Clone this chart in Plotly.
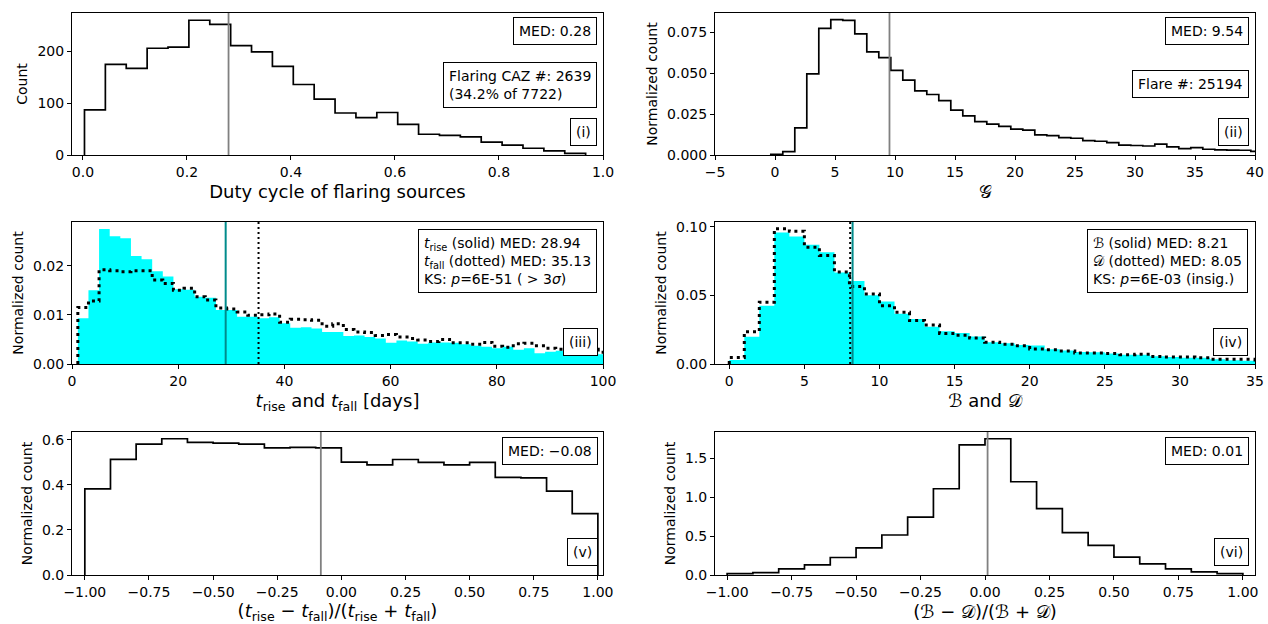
import plotly.graph_objects as go

W, H = 1268, 624

# ---------------- data ----------------
# (i) duty cycle of flaring sources (counts)
duty_start, duty_width = 0.003, 0.04015
duty_counts = [87, 175, 167, 206, 208, 260, 252, 211, 199, 171, 136, 108,
               81, 72, 82, 59, 40, 38, 35, 25, 19, 13, 8, 3]
duty_med = 0.28

# (ii) G (normalized)
g_start, g_width = -0.35, 1.0
g_density = [0.0004, 0.0020, 0.0166, 0.0495, 0.0772, 0.0825, 0.0821, 0.0739,
             0.0629, 0.0594, 0.0516, 0.0457, 0.0391, 0.0369, 0.0332, 0.0274,
             0.0238, 0.0203, 0.0188, 0.0174, 0.0158, 0.0152, 0.0123, 0.0118,
             0.0106, 0.0102, 0.0088, 0.0084, 0.0076, 0.0060, 0.0058, 0.0055,
             0.0066, 0.0049, 0.0039, 0.0045, 0.0035, 0.0031, 0.0030, 0.0029,
             0.0022, 0.0021]
g_med = 9.54

# (iii) t_rise (filled) and t_fall (dotted), normalized
t_start, t_width = 1.1, 2.0
t_rise = [0.0093, 0.0150, 0.0275, 0.0260, 0.0256, 0.0220, 0.0213, 0.0189,
          0.0178, 0.0152, 0.0151, 0.0137, 0.0135, 0.0110, 0.0110, 0.0096,
          0.0096, 0.0093, 0.0095, 0.0083, 0.0074, 0.0075, 0.0072, 0.0065,
          0.0065, 0.0057, 0.0058, 0.0055, 0.0052, 0.0043, 0.0048, 0.0046,
          0.0041, 0.0044, 0.0044, 0.0043, 0.0040, 0.0037, 0.0035, 0.0032,
          0.0035, 0.0029, 0.0032, 0.0022, 0.0025, 0.0027, 0.0025, 0.0022,
          0.0026, 0.0020]
t_fall = [0.0115, 0.0128, 0.0192, 0.0190, 0.0188, 0.0190, 0.0190, 0.0171,
          0.0164, 0.0150, 0.0154, 0.0137, 0.0130, 0.0114, 0.0112, 0.0106,
          0.0099, 0.0100, 0.0102, 0.0085, 0.0091, 0.0090, 0.0089, 0.0077,
          0.0082, 0.0070, 0.0065, 0.0064, 0.0058, 0.0060, 0.0055, 0.0052,
          0.0049, 0.0046, 0.0050, 0.0043, 0.0043, 0.0040, 0.0044, 0.0036,
          0.0034, 0.0041, 0.0042, 0.0037, 0.0032, 0.0030, 0.0031, 0.0034,
          0.0030, 0.0024]
t_rise_med, t_fall_med = 28.94, 35.13

# (iv) B (filled) and D (dotted), normalized
bd_start, bd_width = 0.0, 1.0
b_density = [0.0030, 0.0199, 0.0424, 0.0958, 0.0929, 0.0868, 0.0814, 0.0667,
             0.0605, 0.0500, 0.0456, 0.0365, 0.0328, 0.0272, 0.0238, 0.0225,
             0.0200, 0.0159, 0.0152, 0.0139, 0.0134, 0.0108, 0.0098, 0.0088,
             0.0086, 0.0076, 0.0068, 0.0068, 0.0056, 0.0051, 0.0046, 0.0046,
             0.0034, 0.0027, 0.0024, 0.0022]
d_density = [0.0047, 0.0235, 0.0450, 0.0985, 0.0966, 0.0850, 0.0790, 0.0670,
             0.0564, 0.0510, 0.0424, 0.0377, 0.0316, 0.0284, 0.0223, 0.0210,
             0.0189, 0.0159, 0.0144, 0.0132, 0.0110, 0.0103, 0.0095, 0.0081,
             0.0081, 0.0076, 0.0068, 0.0071, 0.0054, 0.0051, 0.0051, 0.0046,
             0.0034, 0.0034, 0.0034, 0.0030]
b_med, d_med = 8.21, 8.05

# (v) (t_rise - t_fall)/(t_rise + t_fall)
asym_start, asym_width = -1.0, 0.1
t_asym = [0.382, 0.513, 0.580, 0.604, 0.588, 0.585, 0.580, 0.564, 0.566, 0.564,
          0.500, 0.488, 0.512, 0.499, 0.488, 0.499, 0.433, 0.431, 0.372, 0.272]
t_asym_med = -0.08

# (vi) (B - D)/(B + D)
bd_asym = [0.017, 0.030, 0.080, 0.130, 0.225, 0.350, 0.515, 0.745, 1.110, 1.675,
           1.753, 1.200, 0.853, 0.545, 0.380, 0.230, 0.143, 0.078, 0.040, 0.017]
bd_asym_med = 0.01

# ---------------- helpers ----------------
FONT = "DejaVu Sans"


def step_xy(start, width, vals):
    n = len(vals)
    edges = [start + width * i for i in range(n + 1)]
    x = [edges[0]] + edges[:n] + [edges[n], edges[n]]
    y = [0] + list(vals) + [vals[-1], 0]
    return x, y


# panel pixel boxes: (left, right, top, bottom)
P = {1: (72, 603, 13, 155), 2: (715, 1255, 13, 155),
     3: (72, 603, 222, 364), 4: (715, 1255, 222, 364),
     5: (72, 603, 432, 575), 6: (715, 1255, 432, 575)}

fig = go.Figure()


def ax(i):
    return ("x" if i == 1 else f"x{i}"), ("y" if i == 1 else f"y{i}")


def add_step(i, start, width, vals, color="black", dash=None, lw=1.7, fill=None):
    x, y = step_xy(start, width, vals)
    xa, ya = ax(i)
    if fill:
        fig.add_trace(go.Scatter(x=x, y=y, mode="lines", line=dict(width=0, shape="hv"),
                                 fill="tozeroy", fillcolor=fill, xaxis=xa, yaxis=ya,
                                 hoverinfo="skip", showlegend=False))
    else:
        fig.add_trace(go.Scatter(x=x, y=y, mode="lines",
                                 line=dict(color=color, width=lw, shape="hv", dash=dash),
                                 xaxis=xa, yaxis=ya, hoverinfo="skip", showlegend=False))


def vline(i, xv, color, dash=None, width=1.8):
    xa, ya = ax(i)
    fig.add_shape(type="line", xref=xa, yref=f"{ya} domain", x0=xv, x1=xv, y0=0, y1=1,
                  line=dict(color=color, width=width, dash=dash))


def box(text, right_px, top_px=None, bottom_px=None, align="center"):
    kw = dict(text=text, xref="paper", yref="paper", x=right_px / W, xanchor="right",
              showarrow=False, align=align, bgcolor="white", bordercolor="black",
              borderwidth=1, borderpad=5, font=dict(family=FONT, size=14, color="black"))
    if top_px is not None:
        kw.update(y=1 - top_px / H, yanchor="top")
    else:
        kw.update(y=1 - bottom_px / H, yanchor="bottom")
    fig.add_annotation(**kw)


DOT = "3px,4px"

# (i)
add_step(1, duty_start, duty_width, duty_counts)
vline(1, duty_med, "gray")
# (ii)
add_step(2, g_start, g_width, g_density)
vline(2, g_med, "gray")
# (iii)
add_step(3, t_start, t_width, t_rise, fill="#00ffff")
add_step(3, t_start, t_width, t_fall, dash=DOT, lw=3)
vline(3, t_rise_med, "#008b8b", width=2)
vline(3, t_fall_med, "black", dash="2px,3px", width=2)
# (iv)
add_step(4, bd_start, bd_width, b_density, fill="#00ffff")
add_step(4, bd_start, bd_width, d_density, dash=DOT, lw=3)
vline(4, b_med, "#008b8b", width=2)
vline(4, d_med, "black", dash="2px,3px", width=2)
# (v)
add_step(5, asym_start, asym_width, t_asym)
vline(5, t_asym_med, "gray")
# (vi)
add_step(6, asym_start, asym_width, bd_asym)
vline(6, bd_asym_med, "gray")

# ---------------- axes ----------------
x_titles = {
    1: "Duty cycle of flaring sources",
    2: "𝒢",
    3: "<i>t</i><sub>rise</sub> and <i>t</i><sub>fall</sub> [days]",
    4: "ℬ and 𝒟",
    5: "(<i>t</i><sub>rise</sub> − <i>t</i><sub>fall</sub>)/(<i>t</i><sub>rise</sub> + <i>t</i><sub>fall</sub>)",
    6: "(ℬ − 𝒟)/(ℬ + 𝒟)",
}
y_titles = {1: "Count", 2: "Normalized count", 3: "Normalized count",
            4: "Normalized count", 5: "Normalized count", 6: "Normalized count"}
x_ranges = {1: [-0.021, 1.0], 2: [-5, 40], 3: [0, 100], 4: [-0.95, 35],
            5: [-1.05, 1.02], 6: [-1.047, 1.047]}
x_ticks = {1: dict(dtick=0.2, tick0=0, tickformat=".1f"),
           2: dict(dtick=5, tick0=0),
           3: dict(dtick=20, tick0=0),
           4: dict(dtick=5, tick0=0),
           5: dict(dtick=0.25, tick0=0, tickformat=".2f"),
           6: dict(dtick=0.25, tick0=0, tickformat=".2f")}
y_ranges = {1: [0, 274], 2: [0, 0.0866], 3: [0, 0.0289], 4: [0, 0.1034],
            5: [0, 0.634], 6: [0, 1.84]}
y_ticks = {1: dict(dtick=100, tick0=0),
           2: dict(dtick=0.025, tick0=0, tickformat=".3f"),
           3: dict(dtick=0.01, tick0=0, tickformat=".2f"),
           4: dict(dtick=0.05, tick0=0, tickformat=".2f"),
           5: dict(dtick=0.2, tick0=0, tickformat=".1f"),
           6: dict(dtick=0.5, tick0=0, tickformat=".1f")}

common = dict(showline=True, linecolor="black", linewidth=1, mirror=True,
              ticks="outside", ticklen=4, tickwidth=1, tickcolor="black",
              showgrid=False, zeroline=False, automargin=False,
              tickfont=dict(family=FONT, size=14, color="black"))

layout = {}
for i, (l, r, t, b) in P.items():
    xk = "xaxis" if i == 1 else f"xaxis{i}"
    yk = "yaxis" if i == 1 else f"yaxis{i}"
    xa, ya = ax(i)
    layout[xk] = dict(domain=[l / W, r / W], anchor=ya, range=x_ranges[i],
                      title=dict(text=x_titles[i], font=dict(family=FONT, size=18, color="black"),
                                 standoff=6),
                      **x_ticks[i], **common)
    layout[yk] = dict(domain=[1 - b / H, 1 - t / H], anchor=xa, range=y_ranges[i],
                      title=dict(text=y_titles[i], font=dict(family=FONT, size=14, color="black"),
                                 standoff=6),
                      **y_ticks[i], **common)

fig.update_layout(**layout)
fig.update_layout(width=W, height=H, margin=dict(l=0, r=0, t=0, b=0, autoexpand=False),
                  paper_bgcolor="white", plot_bgcolor="white",
                  font=dict(family=FONT, color="black"), showlegend=False)

# ---------------- text boxes ----------------
box("MED: 0.28", 597, top_px=17)
box("Flaring CAZ #: 2639<br>(34.2% of 7722)", 597, top_px=62, align="left")
box("(i)", 597, bottom_px=146)

box("MED: 9.54", 1249, top_px=17)
box("Flare #: 25194", 1249, top_px=70)
box("(ii)", 1249, bottom_px=146)

box("<i>t</i><sub>rise</sub> (solid) MED: 28.94<br><i>t</i><sub>fall</sub> (dotted) MED: 35.13"
    "<br>KS: <i>p</i>=6E-51 ( > 3<i>σ</i>)", 597, top_px=229, align="left")
box("(iii)", 598, bottom_px=356)

box("ℬ (solid) MED: 8.21<br>𝒟 (dotted) MED: 8.05<br>KS: <i>p</i>=6E-03 (insig.)",
    1248, top_px=229, align="left")
box("(iv)", 1248, bottom_px=356)

box("MED: −0.08", 598, top_px=437)
box("(v)", 598, bottom_px=566)

box("MED: 0.01", 1249, top_px=437)
box("(vi)", 1249, bottom_px=566)

fig.write_html("out.html", config={"displayModeBar": False},
               post_script="document.body.style.margin='0px';"
                           "document.body.style.overflow='hidden';")
